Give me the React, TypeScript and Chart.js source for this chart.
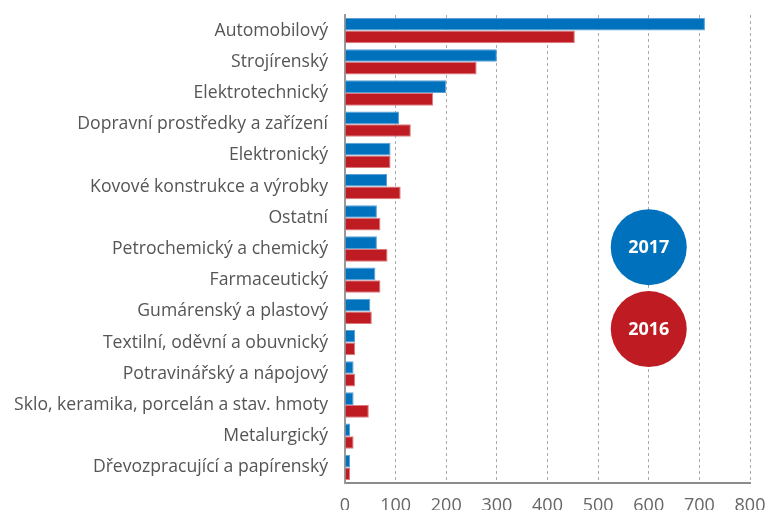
import React, { useEffect, useRef } from "react";
import { Chart, registerables } from "chart.js";

Chart.register(...registerables);

const categories = [
  "Automobilový",
  "Strojírenský",
  "Elektrotechnický",
  "Dopravní prostředky a zařízení",
  "Elektronický",
  "Kovové konstrukce a výrobky",
  "Ostatní",
  "Petrochemický a chemický",
  "Farmaceutický",
  "Gumárenský a plastový",
  "Textilní, oděvní a obuvnický",
  "Potravinářský a nápojový",
  "Sklo, keramika, porcelán a stav. hmoty",
  "Metalurgický",
  "Dřevozpracující a papírenský",
];

const values2017 = [711, 300, 200, 107, 90, 83, 63, 63, 60, 50, 20, 17, 17, 10, 10];
const values2016 = [454, 260, 174, 130, 90, 110, 70, 84, 70, 53, 20, 20, 47, 17, 10];

const xTicks = [0, 100, 200, 300, 400, 500, 600, 700, 800];

const BLUE = "#0071bc";
const RED = "#be1c22";
const FONT = "'Open Sans', 'Noto Sans', sans-serif";

const legendPlugin = {
  id: "circleLegend",
  afterDatasetsDraw(chart: any) {
    const { ctx, chartArea, scales } = chart;
    const cx = scales.x.getPixelForValue(600);
    const h = chartArea.bottom - chartArea.top;
    const items = [
      { label: "2017", color: BLUE, frac: 0.496 },
      { label: "2016", color: RED, frac: 0.671 },
    ];
    ctx.save();
    for (const it of items) {
      const cy = chartArea.top + h * it.frac;
      ctx.beginPath();
      ctx.arc(cx, cy, 38, 0, Math.PI * 2);
      ctx.fillStyle = it.color;
      ctx.fill();
      ctx.fillStyle = "#ffffff";
      ctx.font = `bold 18px ${FONT}`;
      ctx.textAlign = "center";
      ctx.textBaseline = "middle";
      ctx.fillText(it.label, cx, cy + 1);
    }
    ctx.restore();
  },
};

export default function App() {
  const ref = useRef<HTMLCanvasElement | null>(null);
  useEffect(() => {
    if (!ref.current) return;
    const chart = new Chart(ref.current, {
      type: "bar",
      data: {
        labels: categories,
        datasets: [
          {
            label: "2017",
            data: values2017,
            backgroundColor: BLUE,
            borderColor: "#5a9fd6",
            borderWidth: 1,
            borderSkipped: "start",
            barPercentage: 1,
            categoryPercentage: 0.81,
          },
          {
            label: "2016",
            data: values2016,
            backgroundColor: RED,
            borderColor: "#dc7a7e",
            borderWidth: 1,
            borderSkipped: "start",
            barPercentage: 1,
            categoryPercentage: 0.81,
          },
        ],
      },
      options: {
        indexAxis: "y",
        animation: false,
        responsive: true,
        maintainAspectRatio: false,
        layout: { padding: { top: 15, right: 18, left: 0, bottom: 0 } },
        plugins: {
          legend: { display: false },
          tooltip: { enabled: false },
        },
        scales: {
          x: {
            min: 0,
            max: 800,
            afterBuildTicks: (scale: any) => {
              scale.ticks = xTicks.map((v) => ({ value: v }));
            },
            afterFit: (scale: any) => {
              scale.height = 27;
              scale.paddingLeft = 0;
              scale.paddingRight = 0;
            },
            grid: {
              color: "#aaaaaa",
              lineWidth: 1,
              drawTicks: false,
            },
            border: {
              display: true,
              color: "#8c8c8c",
              width: 2,
              dash: [3, 3],
            },
            ticks: {
              color: "#666666",
              padding: 12,
              font: { family: FONT, size: 18 },
            },
          },
          y: {
            afterFit: (scale: any) => {
              scale.width = 345;
              scale.paddingTop = 0;
              scale.paddingBottom = 0;
            },
            grid: { display: false, drawTicks: false },
            border: { display: true, color: "#999999", width: 2 },
            ticks: {
              color: "#555555",
              padding: 17,
              font: { family: FONT, size: 17.6 },
            },
          },
        },
      },
      plugins: [legendPlugin],
    } as any);
    return () => chart.destroy();
  }, []);
  return (
    <div style={{ position: "fixed", left: 0, top: 0, width: 768, height: 510, background: "#fff" }}>
      <canvas ref={ref} />
    </div>
  );
}
